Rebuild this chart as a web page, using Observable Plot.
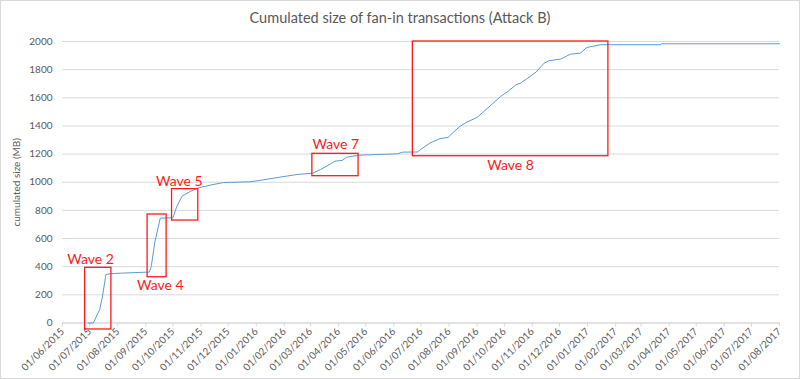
<!DOCTYPE html>
<html>
<head>
<meta charset="utf-8">
<script src="https://cdn.jsdelivr.net/npm/d3@7"></script>
<script src="https://cdn.jsdelivr.net/npm/@observablehq/plot@0.6"></script>
<style>
  body { margin: 0; background: #fff; }
  #chart { position: relative; width: 800px; height: 379px; font-family: Lato, "Open Sans", sans-serif; }
  #title { position: absolute; left: 0; right: 0; top: 9px; text-align: center; font-size: 14.5px; color: #595959; }
  #chart svg { position: absolute; left: 0; top: 0; }
  #border { position: absolute; left: 0; top: 0; width: 800px; height: 379px; box-sizing: border-box; border: 1px solid #d9d9d9; pointer-events: none; }
</style>
</head>
<body>
<div id="chart">
  <div id="title">Cumulated size of fan-in transactions (Attack B)</div>
  <div id="border"></div>
</div>
<script>
// ---- data ----
const dates = [
  "2015-06-29","2015-07-05","2015-07-12","2015-07-15","2015-07-19","2015-07-24","2015-08-04","2015-09-05",
  "2015-09-07","2015-09-11","2015-09-17","2015-10-01","2015-10-05","2015-10-11","2015-10-20","2015-10-29",
  "2015-11-13","2015-11-26","2015-12-25","2016-01-09","2016-01-27","2016-02-15","2016-03-03","2016-03-12",
  "2016-03-23","2016-03-28","2016-04-05","2016-04-10","2016-04-23","2016-06-05","2016-06-11","2016-06-27",
  "2016-07-02","2016-07-11","2016-07-22","2016-07-31","2016-08-06","2016-08-13","2016-08-21","2016-09-01",
  "2016-09-12","2016-09-27","2016-10-05","2016-10-14","2016-10-19","2016-10-27","2016-11-05","2016-11-14",
  "2016-11-19","2016-12-02","2016-12-06","2016-12-13","2016-12-24","2016-12-31","2017-01-15","2017-03-22",
  "2017-03-24","2017-08-01"
];
const sizes = [
  0, 0, 94, 183, 345, 350, 354, 362,
  400, 574, 745, 748, 823, 901, 934, 960,
  982, 998, 1003, 1017, 1036, 1055, 1064, 1090,
  1130, 1150, 1155, 1178, 1192, 1202, 1214, 1215,
  1239, 1279, 1310, 1319, 1357, 1397, 1428, 1461,
  1523, 1610, 1645, 1693, 1704, 1740, 1782, 1846,
  1863, 1875, 1887, 1910, 1917, 1957, 1977, 1977,
  1984, 1984
];

const waveNames  = ["Wave 2", "Wave 4", "Wave 5", "Wave 7", "Wave 8"];
const waveStart  = ["2015-06-26", "2015-09-03", "2015-09-30", "2016-03-03", "2016-06-22"];
const waveEnd    = ["2015-07-25", "2015-09-24", "2015-10-29", "2016-04-23", "2017-01-24"];
const waveLow    = [-46, 325, 728, 1043, 1185];
const waveHigh   = [392, 771, 951, 1202, 2000];
const labelDates = ["2015-07-02", "2015-09-17", "2015-10-08", "2016-03-29", "2016-10-08"];
const labelSizes = [451, 266, 1007, 1268, 1119];

const yTicks = [0, 200, 400, 600, 800, 1000, 1200, 1400, 1600, 1800, 2000];
const xTickLabels = [
  "01/06/2015","01/07/2015","01/08/2015","01/09/2015","01/10/2015","01/11/2015","01/12/2015",
  "01/01/2016","01/02/2016","01/03/2016","01/04/2016","01/05/2016","01/06/2016","01/07/2016",
  "01/08/2016","01/09/2016","01/10/2016","01/11/2016","01/12/2016","01/01/2017","01/02/2017",
  "01/03/2017","01/04/2017","01/05/2017","01/06/2017","01/07/2017","01/08/2017"
];

// ---- build ----
const parseDMY = s => { const [d, m, y] = s.split("/").map(Number); return new Date(Date.UTC(y, m - 1, d)); };
const xTicks = xTickLabels.map(parseDMY);
const fmt = d3.utcFormat("%d/%m/%Y");
const series = dates.map((d, i) => ({date: new Date(d + "T00:00:00Z"), size: sizes[i]}));
const waves = waveNames.map((n, i) => ({
  name: n,
  x1: new Date(waveStart[i] + "T00:00:00Z"), x2: new Date(waveEnd[i] + "T00:00:00Z"),
  y1: waveLow[i], y2: waveHigh[i],
  lx: new Date(labelDates[i] + "T00:00:00Z"), ly: labelSizes[i]
}));

const chart = Plot.plot({
  width: 800, height: 379,
  marginTop: 41, marginBottom: 56.5, marginLeft: 62, marginRight: 21,
  style: {fontFamily: "Lato, 'Open Sans', sans-serif", fontSize: "10px", color: "#595959", background: "transparent", overflow: "visible"},
  x: {type: "utc", domain: [xTicks[0], xTicks[xTicks.length - 1]]},
  y: {domain: [0, 2000]},
  marks: [
    Plot.gridY(yTicks, {stroke: "#d9d9d9", strokeOpacity: 1, strokeWidth: 1}),
    Plot.ruleY([0], {stroke: "#d9d9d9", strokeWidth: 1}),
    Plot.axisX(xTicks, {tickRotate: -45, tickFormat: fmt, tickSize: 4, tickPadding: 3, stroke: "#d9d9d9", fill: "#595959", label: null}),
    Plot.axisY(yTicks, {tickSize: 0, tickPadding: 10, tickFormat: d => String(d), fill: "#595959", label: "cumulated size (MB)", labelAnchor: "center", labelArrow: "none", labelOffset: 50}),
    Plot.line(series, {x: "date", y: "size", stroke: "#5b9bd5", strokeWidth: 1}),
    Plot.rect(waves, {x1: "x1", x2: "x2", y1: "y1", y2: "y2", fill: "none", stroke: "#ff1a1a", strokeWidth: 1.3}),
    Plot.text(waves, {x: "lx", y: "ly", text: "name", fill: "#ff1a1a", fontSize: 14, textAnchor: "middle"})
  ]
});
document.getElementById("chart").insertBefore(chart, document.getElementById("title"));
</script>
</body>
</html>
